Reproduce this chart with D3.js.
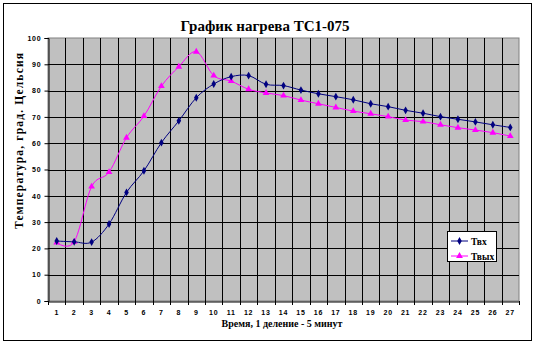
<!DOCTYPE html>
<html>
<head>
<meta charset="utf-8">
<script src="https://cdn.jsdelivr.net/npm/d3@7/dist/d3.min.js"></script>
<style>
  html, body { margin: 0; padding: 0; background: #fff; }
  svg { display: block; }
</style>
</head>
<body>
<svg id="chart" width="537" height="345"></svg>
<script>
const categories = ["1","2","3","4","5","6","7","8","9","10","11","12","13","14","15","16","17","18","19","20","21","22","23","24","25","26","27"];
const tvhValues  = [22.8, 22.5, 22.4, 29.3, 41.3, 49.5, 60.2, 68.5, 77.3, 82.5, 85.3, 85.7, 82.4, 81.9, 80.2, 78.8, 77.7, 76.5, 75.0, 73.9, 72.5, 71.4, 70.1, 69.1, 68.1, 67.0, 66.0];
const tvyhValues = [22.2, 22.5, 43.5, 49.0, 62.1, 70.3, 81.7, 89.1, 94.8, 85.7, 83.6, 80.5, 79.1, 78.1, 76.4, 75.0, 73.6, 72.2, 71.2, 70.1, 68.8, 68.2, 67.0, 65.9, 65.0, 64.0, 62.7];
const yTicks = [0, 10, 20, 30, 40, 50, 60, 70, 80, 90, 100];
const seriesNames = ["Твх", "Твых"];
const titleText = "График нагрева ТС1-075";
const xTitle = "Время, 1 деление - 5 минут";
const yTitle = "Температура, град. Цельсия";

const svg = d3.select("#chart");
const plot = { left: 48, right: 519, top: 38, bottom: 301 };

// outer frame
svg.append("rect").attr("x", 3.5).attr("y", 3.5).attr("width", 528).attr("height", 337)
  .attr("fill", "#fff").attr("stroke", "#000").attr("stroke-width", 1);

const x = d3.scaleBand().domain(categories).range([plot.left, plot.right]).padding(0);
const y = d3.scaleLinear().domain([0, 100]).range([plot.bottom, plot.top]);

// plot background
svg.append("rect").attr("x", plot.left).attr("y", plot.top)
  .attr("width", plot.right - plot.left).attr("height", plot.bottom - plot.top)
  .attr("fill", "#c0c0c0").attr("stroke", "#808080").attr("stroke-width", 1);

// horizontal gridlines
svg.append("g").selectAll("line").data(yTicks.filter(d => d > 0 && d < 100)).join("line")
  .attr("x1", plot.left).attr("x2", plot.right)
  .attr("y1", d => Math.round(y(d)) + 0.5).attr("y2", d => Math.round(y(d)) + 0.5)
  .attr("stroke", "#000").attr("stroke-width", 1);

// vertical gridlines at category boundaries
svg.append("g").selectAll("line").data(categories.slice(1)).join("line")
  .attr("x1", d => Math.round(x(d)) + 0.5).attr("x2", d => Math.round(x(d)) + 0.5)
  .attr("y1", plot.top).attr("y2", plot.bottom)
  .attr("stroke", "#000").attr("stroke-width", 1);

// Y axis
const yAxis = svg.append("g").attr("transform", `translate(${plot.left + 0.5},0)`)
  .call(d3.axisLeft(y).tickValues(yTicks).tickSize(4).tickPadding(3).tickFormat(d3.format("d")));
yAxis.select(".domain").attr("stroke", "#000");
yAxis.selectAll(".tick line").attr("stroke", "#000");
yAxis.selectAll(".tick text").attr("font-family", "Liberation Sans, Arial, sans-serif")
  .attr("font-size", "7px").attr("font-weight", "bold").attr("fill", "#000").attr("letter-spacing", "0.8px");

// X axis
const xAxis = svg.append("g").attr("transform", `translate(0,${plot.bottom + 0.5})`)
  .call(d3.axisBottom(x).tickSize(0).tickPadding(9));
xAxis.select(".domain").attr("stroke", "#000");
xAxis.selectAll(".tick text").attr("font-family", "Liberation Sans, Arial, sans-serif")
  .attr("font-size", "7px").attr("font-weight", "bold").attr("fill", "#000").attr("letter-spacing", "0.8px");
// boundary tick marks
svg.append("g").selectAll("line").data(categories.concat(["__end"])).join("line")
  .attr("x1", (d, i) => Math.round(i < categories.length ? x(d) : plot.right) + 0.5)
  .attr("x2", (d, i) => Math.round(i < categories.length ? x(d) : plot.right) + 0.5)
  .attr("y1", plot.bottom).attr("y2", plot.bottom + 4)
  .attr("stroke", "#000");

// lines
const cx = d => x(d) + x.bandwidth() / 2;
const line = d3.line().curve(d3.curveCardinal.tension(0));
const series = [
  { name: seriesNames[0], values: tvhValues, color: "#000080", marker: d3.symbolDiamond, size: 18 },
  { name: seriesNames[1], values: tvyhValues, color: "#ff00ff", marker: d3.symbolTriangle, size: 20 }
];
series.slice().reverse().forEach(s => {
  const pts = s.values.map((v, i) => [cx(categories[i]), y(v)]);
  svg.append("path").attr("d", line(pts)).attr("fill", "none")
    .attr("stroke", s.color).attr("stroke-width", 1);
  svg.append("g").selectAll("path").data(pts).join("path")
    .attr("transform", d => `translate(${d[0]},${d[1]})`)
    .attr("d", d3.symbol().type(s.marker).size(s.size))
    .attr("fill", s.color);
});

// title
svg.append("text").attr("x", 265).attr("y", 31).attr("text-anchor", "middle")
  .attr("font-family", "Liberation Serif, Times New Roman, serif").attr("font-size", "15px")
  .attr("font-weight", "bold").text(titleText);

// x title
svg.append("text").attr("x", 282).attr("y", 327).attr("text-anchor", "middle")
  .attr("font-family", "Liberation Serif, Times New Roman, serif").attr("font-size", "10px")
  .attr("font-weight", "bold").text(xTitle);

// y title
svg.append("text").attr("transform", "translate(23,141) rotate(-90)").attr("text-anchor", "middle")
  .attr("font-family", "Liberation Serif, Times New Roman, serif").attr("font-size", "11.5px")
  .attr("font-weight", "bold").attr("textLength", 176).attr("lengthAdjust", "spacing").text(yTitle);

// legend
const lg = svg.append("g");
lg.append("rect").attr("x", 447.5).attr("y", 231.5).attr("width", 49).attr("height", 30)
  .attr("fill", "#fff").attr("stroke", "#000");
series.forEach((s, i) => {
  const ly = 241 + i * 15;
  lg.append("line").attr("x1", 451).attr("x2", 468).attr("y1", ly).attr("y2", ly)
    .attr("stroke", s.color).attr("stroke-width", 1);
  lg.append("path").attr("transform", `translate(459.5,${ly})`)
    .attr("d", d3.symbol().type(s.marker).size(s.size)).attr("fill", s.color);
  lg.append("text").attr("x", 471).attr("y", ly + 3.5)
    .attr("font-family", "Liberation Serif, Times New Roman, serif").attr("font-size", "9.5px")
    .attr("font-weight", "bold").text(s.name);
});
</script>
</body>
</html>
